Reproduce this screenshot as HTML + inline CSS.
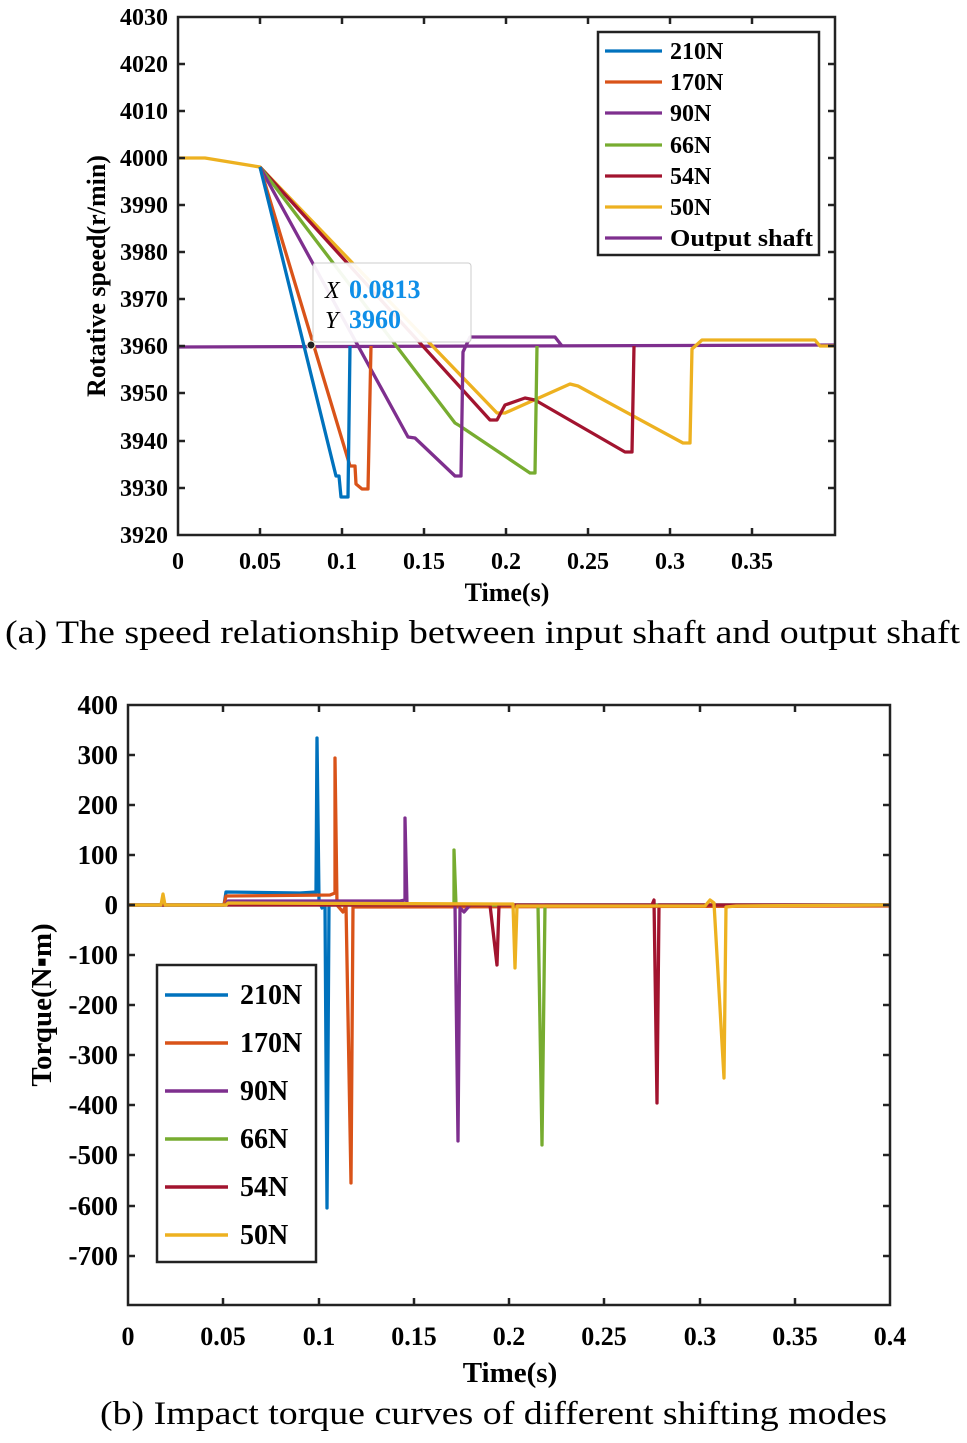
<!DOCTYPE html>
<html><head><meta charset="utf-8"><style>
body{margin:0;background:#fff}
svg text{font-family:"Liberation Serif",serif}
</style></head><body>
<svg width="967" height="1438" viewBox="0 0 967 1438" xmlns="http://www.w3.org/2000/svg">
<!-- TOP CHART -->
<g fill="none" stroke-width="3.3" stroke-linejoin="round">
<polyline stroke="#7E2F8E" points="178,347 500,346 835,345"/>
<polyline stroke="#EDB120" points="178,158 205,158 260,167 497,413 505,413 570,384 578,386 683,443 690,443 692,349 702,340 815,340 820,346 835,346"/>
<polyline stroke="#A2142F" points="260,167 490,420 497,420 505,405 525,398 535,400 625,452 632,452 634,346"/>
<polyline stroke="#77AC30" points="260,167 455,423 460,426 530,473 535,473 537,346"/>
<polyline stroke="#7E2F8E" points="260,167 408,437 415,438 455,476 461,476 463,352 470,337 555,337 562,346"/>
<polyline stroke="#D95319" points="260,167 350,466 355,466 356,484 362,489 368,489 371,346"/>
<polyline stroke="#0072BD" points="260,167 336,476 339,476 341,497 348,497 350,346"/>
</g>
<g stroke="#222" stroke-width="2.5" fill="none">
<rect x="178" y="17" width="657" height="518"/>
<path d="M178,64h7M178,111h7M178,158h7M178,205h7M178,252h7M178,299h7M178,346h7M178,393h7M178,441h7M178,488h7
M835,64h-7M835,111h-7M835,158h-7M835,205h-7M835,252h-7M835,299h-7M835,346h-7M835,393h-7M835,441h-7M835,488h-7
M260,535v-7M342,535v-7M424,535v-7M506,535v-7M588,535v-7M670,535v-7M752,535v-7
M260,17v7M342,17v7M424,17v7M506,17v7M588,17v7M670,17v7M752,17v7"/>
</g>
<rect x="313" y="263" width="158" height="79" rx="3" fill="#fff" fill-opacity="0.93" stroke="#ccc"/>
<text x="325" y="298" font-size="24" font-style="italic">X</text>
<text x="349" y="298" font-size="26" font-weight="bold" fill="#0f8fe8">0.0813</text>
<text x="325" y="328" font-size="24" font-style="italic">Y</text>
<text x="349" y="328" font-size="26" font-weight="bold" fill="#0f8fe8">3960</text>
<circle cx="311" cy="345" r="4" fill="#222" stroke="#ffe" stroke-width="1"/>
<g font-size="24" font-weight="bold" text-anchor="end">
<text x="168" y="25">4030</text><text x="168" y="72">4020</text><text x="168" y="119">4010</text><text x="168" y="166">4000</text><text x="168" y="213">3990</text><text x="168" y="260">3980</text><text x="168" y="307">3970</text><text x="168" y="354">3960</text><text x="168" y="401">3950</text><text x="168" y="449">3940</text><text x="168" y="496">3930</text><text x="168" y="543">3920</text>
</g>
<g font-size="24" font-weight="bold" text-anchor="middle">
<text x="178" y="569">0</text><text x="260" y="569">0.05</text><text x="342" y="569">0.1</text><text x="424" y="569">0.15</text><text x="506" y="569">0.2</text><text x="588" y="569">0.25</text><text x="670" y="569">0.3</text><text x="752" y="569">0.35</text>
<text x="507" y="601" font-size="26">Time(s)</text>
<text transform="translate(105,276) rotate(-90)" font-size="26">Rotative speed(r/min)</text>
</g>
<rect x="598" y="32" width="221" height="223" fill="#fff" stroke="#222" stroke-width="2.5"/>
<g stroke-width="3.3">
<line x1="605" y1="51" x2="662" y2="51" stroke="#0072BD"/>
<line x1="605" y1="82" x2="662" y2="82" stroke="#D95319"/>
<line x1="605" y1="113" x2="662" y2="113" stroke="#7E2F8E"/>
<line x1="605" y1="145" x2="662" y2="145" stroke="#77AC30"/>
<line x1="605" y1="176" x2="662" y2="176" stroke="#A2142F"/>
<line x1="605" y1="207" x2="662" y2="207" stroke="#EDB120"/>
<line x1="605" y1="238" x2="662" y2="238" stroke="#7E2F8E"/>
</g>
<g font-size="24" font-weight="bold">
<text x="670" y="59">210N</text><text x="670" y="90">170N</text><text x="670" y="121">90N</text><text x="670" y="153">66N</text><text x="670" y="184">54N</text><text x="670" y="215">50N</text><text x="670" y="246" textLength="143" lengthAdjust="spacingAndGlyphs">Output shaft</text>
</g>
<text x="5" y="643" font-size="33" textLength="955" lengthAdjust="spacingAndGlyphs">(a)  The speed relationship between input shaft and output shaft</text>

<!-- BOTTOM CHART -->
<g fill="none" stroke-width="3.3" stroke-linejoin="round">
<polyline stroke="#0072BD" points="128,905 224,905 226,892 300,893 316,892 317,738 319,900 322,908 325,905 327,1208 329,905 890,905"/>
<polyline stroke="#D95319" points="128,905 224,905 226,896 330,895 335,893 335,758 337,905 343,912 346,905 351,1183 353,907 890,906"/>
<polyline stroke="#7E2F8E" points="128,905 226,905 228,901 400,901 405,900 405,818 407,905 455,905 458,1141 460,908 464,912 470,905 890,905"/>
<polyline stroke="#77AC30" points="128,905 454,905 454,850 456,905 538,905 542,1145 545,905 890,905"/>
<polyline stroke="#A2142F" points="128,905 490,905 497,965 499,905 652,905 654,900 657,1103 659,905 890,905"/>
<polyline stroke="#EDB120" points="128,905 161,905 163,894 165,905 226,905 228,903 505,904 513,904 515,968 517,906 705,906 710,900 714,903 724,1078 726,907 736,906 890,905"/>
</g>
<g stroke="#222" stroke-width="2.5" fill="none">
<rect x="128" y="705" width="762" height="600"/>
<path d="M128,755h7M128,805h7M128,855h7M128,905h7M128,955h7M128,1005h7M128,1055h7M128,1105h7M128,1155h7M128,1206h7M128,1256h7
M890,755h-7M890,805h-7M890,855h-7M890,905h-7M890,955h-7M890,1005h-7M890,1055h-7M890,1105h-7M890,1155h-7M890,1206h-7M890,1256h-7
M223,1305v-7M319,1305v-7M414,1305v-7M509,1305v-7M604,1305v-7M700,1305v-7M795,1305v-7
M223,705v7M319,705v7M414,705v7M509,705v7M604,705v7M700,705v7M795,705v7"/>
</g>
<g font-size="27" font-weight="bold" text-anchor="end">
<text x="118" y="714">400</text><text x="118" y="764">300</text><text x="118" y="814">200</text><text x="118" y="864">100</text><text x="118" y="914">0</text><text x="118" y="964">-100</text><text x="118" y="1014">-200</text><text x="118" y="1064">-300</text><text x="118" y="1114">-400</text><text x="118" y="1164">-500</text><text x="118" y="1215">-600</text><text x="118" y="1265">-700</text>
</g>
<g font-size="26" font-weight="bold" text-anchor="middle">
<text x="128" y="1345">0</text><text x="223" y="1345">0.05</text><text x="319" y="1345">0.1</text><text x="414" y="1345">0.15</text><text x="509" y="1345">0.2</text><text x="604" y="1345">0.25</text><text x="700" y="1345">0.3</text><text x="795" y="1345">0.35</text><text x="890" y="1345">0.4</text>
<text x="510" y="1382" font-size="29">Time(s)</text>
<text transform="translate(51,1005) rotate(-90)" font-size="29">Torque(N▪m)</text>
</g>
<rect x="157" y="965" width="159" height="297" fill="#fff" stroke="#222" stroke-width="2.5"/>
<g stroke-width="3.5">
<line x1="165" y1="995" x2="228" y2="995" stroke="#0072BD"/>
<line x1="165" y1="1043" x2="228" y2="1043" stroke="#D95319"/>
<line x1="165" y1="1091" x2="228" y2="1091" stroke="#7E2F8E"/>
<line x1="165" y1="1139" x2="228" y2="1139" stroke="#77AC30"/>
<line x1="165" y1="1187" x2="228" y2="1187" stroke="#A2142F"/>
<line x1="165" y1="1235" x2="228" y2="1235" stroke="#EDB120"/>
</g>
<g font-size="28" font-weight="bold">
<text x="240" y="1004">210N</text><text x="240" y="1052">170N</text><text x="240" y="1100">90N</text><text x="240" y="1148">66N</text><text x="240" y="1196">54N</text><text x="240" y="1244">50N</text>
</g>
<text x="100" y="1424" font-size="33" textLength="787" lengthAdjust="spacingAndGlyphs">(b) Impact torque curves of different shifting modes</text>
</svg>
</body></html>
